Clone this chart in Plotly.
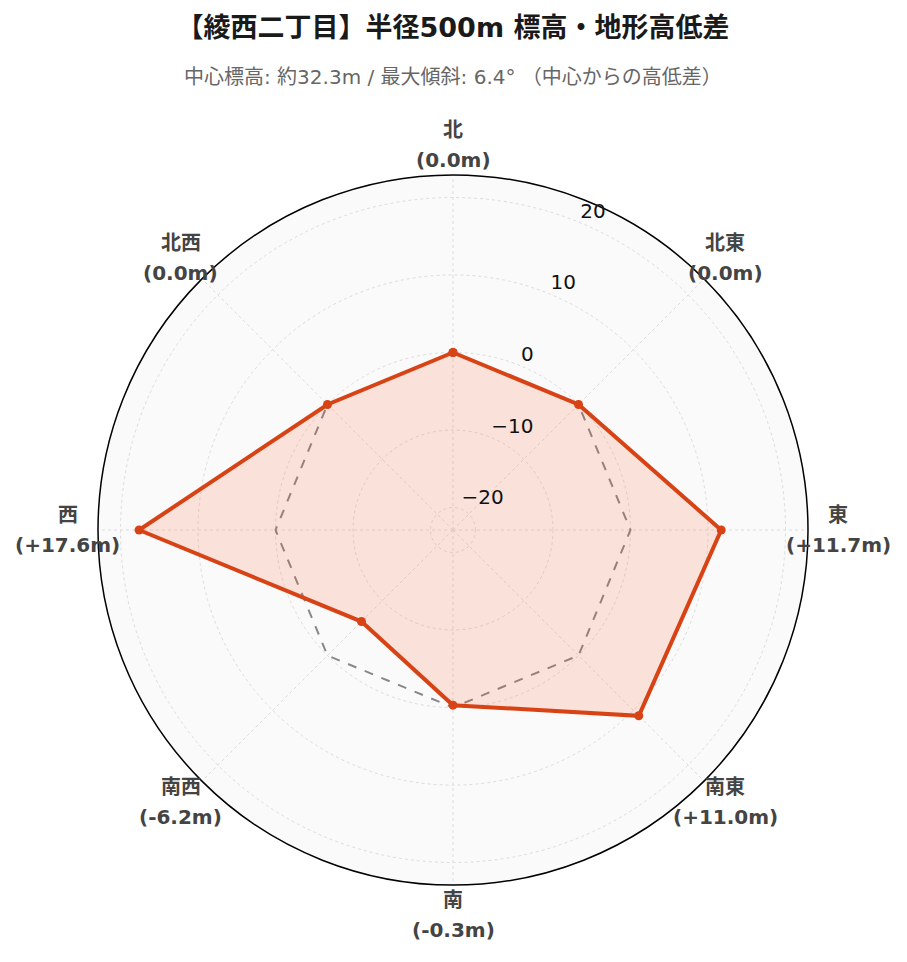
import math
import plotly.graph_objects as go

directions = ["北", "北東", "東", "南東", "南", "南西", "西", "北西"]
compass_deg = [0, 45, 90, 135, 180, 225, 270, 315]
diffs = [0.0, 0.0, 11.7, 11.0, -0.3, -6.2, 17.6, 0.0]
reference = [0, 0, 0, 0, 0, 0, 0, 0]
radial_ticks = [-20, -10, 0, 10, 20]
r_range = [-22.9, 22.9]

title_text = "【綾西二丁目】半径500m 標高・地形高低差"
subtitle_text = "中心標高: 約32.3m / 最大傾斜: 6.4° （中心からの高低差）"

FONT = "DejaVu Sans, Noto Sans CJK JP, sans-serif"
AX_ANGLE = 67.5  # radial tick-label direction (math degrees)


def fmt(v):
    if v > 0:
        return f"+{v:.1f}m"
    return f"{v:.1f}m"


theta = directions + [directions[0]]

fig = go.Figure()
fig.add_trace(go.Scatterpolar(
    r=reference + [reference[0]], theta=theta, mode="lines",
    line=dict(color="#888888", width=2, dash="dash"),
    hoverinfo="skip", showlegend=False,
))
fig.add_trace(go.Scatterpolar(
    r=diffs + [diffs[0]], theta=theta, mode="lines+markers",
    fill="toself", fillcolor="rgba(255,87,34,0.15)",
    line=dict(color="#d84315", width=4),
    marker=dict(color="#d84315", size=9),
    showlegend=False,
))
# radial tick labels, placed on an overlaid numeric polar subplot with the same scale
fig.add_trace(go.Scatterpolar(
    r=radial_ticks, theta=[90 - AX_ANGLE] * len(radial_ticks), subplot="polar2",
    mode="text", text=[str(t).replace("-", "\u2212") for t in radial_ticks],
    textposition="top right", cliponaxis=False,
    textfont=dict(family=FONT, size=20, color="#111111"),
    hoverinfo="skip", showlegend=False,
))

W, H = 899, 954
L, R, T, B = 90, 99, 167, 77
PW, PH = W - L - R, H - T - B
RADIUS_PX = PW / 2
LABEL_PX = RADIUS_PX + 30
FULL = dict(x=[0, 1], y=[0, 1])

annotations = [dict(text=subtitle_text, x=0.5, xref="paper", xanchor="center",
                    y=1 + (T - 69) / PH, yref="paper", yanchor="middle",
                    showarrow=False,
                    font=dict(size=20, color="#666666", family=FONT))]
for d, deg, v in zip(directions, compass_deg, diffs):
    a = math.radians(deg)
    px = 0.5 + LABEL_PX * math.sin(a) / PW
    py = 0.5 + LABEL_PX * math.cos(a) / PH
    for txt, shift in ((d, 15), (f"({fmt(v)})", -15)):
        annotations.append(dict(
            text=f"<b>{txt}</b>", x=px, y=py, xref="paper", yref="paper",
            xanchor="center", yanchor="middle", yshift=shift, showarrow=False,
            font=dict(family=FONT, size=20, color="#444444"),
        ))

fig.update_layout(
    width=W, height=H,
    margin=dict(l=L, r=R, t=T, b=B),
    paper_bgcolor="white",
    font=dict(family=FONT, color="#222"),
    title=dict(text=f"<b>{title_text}</b>", x=(L + PW / 2) / W,
               xanchor="center", y=1 - 20 / H, yanchor="middle",
               font=dict(size=27, color="#1a1a1a", family=FONT)),
    annotations=annotations,
    polar=dict(
        domain=FULL,
        bgcolor="#fafafa",
        radialaxis=dict(
            range=r_range, tickvals=radial_ticks, angle=AX_ANGLE,
            showline=False, ticks="", showticklabels=False,
            gridcolor="#dcdcdc", griddash="dot", gridwidth=1,
        ),
        angularaxis=dict(
            rotation=90, direction="clockwise",
            showline=True, linecolor="black", linewidth=1.5,
            gridcolor="#dcdcdc", griddash="dot", gridwidth=1,
            ticks="", showticklabels=False,
        ),
    ),
    polar2=dict(
        domain=FULL,
        bgcolor="rgba(0,0,0,0)",
        radialaxis=dict(range=r_range, visible=False),
        angularaxis=dict(rotation=90, direction="clockwise", visible=False),
    ),
)

fig.write_html("out.html")
